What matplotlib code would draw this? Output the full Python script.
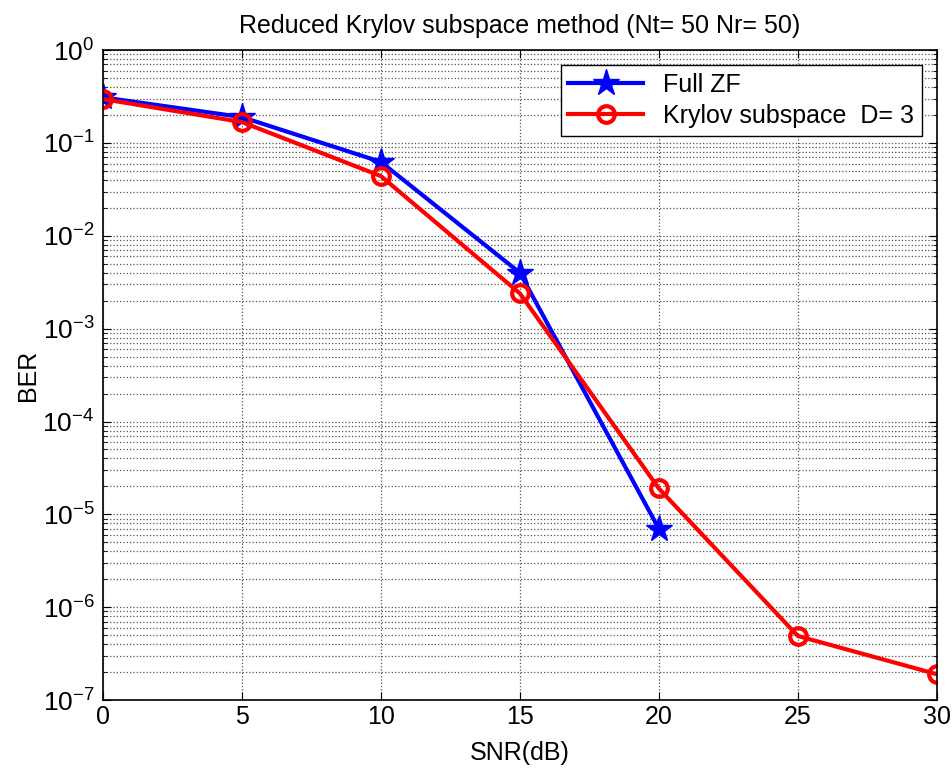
import matplotlib
matplotlib.use("Agg")
import matplotlib.pyplot as plt
from matplotlib.ticker import LogLocator, LogFormatterMathtext, NullFormatter

plt.rcParams['font.family'] = ['Liberation Sans', 'DejaVu Sans']
plt.rcParams['mathtext.fontset'] = 'custom'
plt.rcParams['mathtext.rm'] = 'Liberation Sans'
plt.rcParams['mathtext.it'] = 'Liberation Sans'
plt.rcParams['mathtext.default'] = 'regular'

snr_zf = [0, 5, 10, 15, 20]
ber_zf = [0.31, 0.19, 0.0625, 0.004, 7e-6]

snr_kry = [0, 5, 10, 15, 20, 25, 30]
ber_kry = [0.297, 0.168, 0.044, 0.0024, 1.9e-5, 4.9e-7, 1.9e-7]

fig = plt.figure(figsize=(9.53, 7.71), dpi=100)
ax = fig.add_axes([0.108, 0.092, 0.875, 0.843])

ax.semilogy(snr_zf, ber_zf, '-*', color='blue', lw=3, ms=20, label='Full ZF')
ax.semilogy(snr_kry, ber_kry, '-o', color='red', lw=3, ms=12, mfc='none', mew=3,
            label='Krylov subspace  D= 3')

ax.set_xlim(0, 30)
ax.set_ylim(1e-7, 1)
ax.set_xticks(range(0, 31, 5))
ax.yaxis.set_major_locator(LogLocator(base=10, numticks=10))
ax.yaxis.set_major_formatter(LogFormatterMathtext())
ax.yaxis.set_minor_locator(LogLocator(base=10, subs=range(2, 10), numticks=20))
ax.yaxis.set_minor_formatter(NullFormatter())

ax.grid(True, which='major', color='#555555', ls=':', lw=0.9)
ax.grid(True, which='minor', axis='y', color='#555555', ls=':', lw=0.9)
ax.tick_params(which='both', direction='in', top=True, right=True, labelsize=18)
ax.tick_params(axis='y', labelsize=19, pad=6)
ax.tick_params(which='major', length=6)
ax.tick_params(which='minor', length=3)
for s in ax.spines.values():
    s.set_linewidth(1.2)

ax.set_xlabel('SNR(dB)', fontsize=18, labelpad=9)
ax.set_ylabel('BER', fontsize=18, labelpad=2)
ax.set_title('Reduced Krylov subspace method (Nt= 50 Nr= 50)', fontsize=18, pad=12)

leg = ax.legend(loc='upper right', fontsize=18, fancybox=False, framealpha=1,
                edgecolor='black', borderaxespad=0.6, handlelength=3,
                borderpad=0.3, labelspacing=0.3)
leg.get_frame().set_linewidth(1.0)

fig.savefig('out.png', dpi=100)
